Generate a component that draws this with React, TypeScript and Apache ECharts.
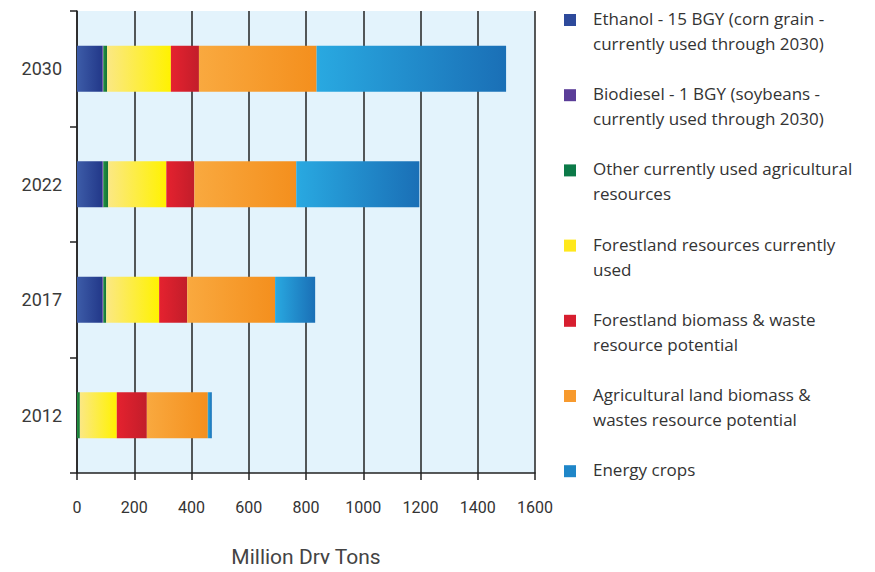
import React, { useEffect, useRef } from "react";
import * as echarts from "echarts";

// Years shown on the category axis (bottom to top)
const years = ["2012", "2017", "2022", "2030"];

// Million dry tons per resource, per year (same order as `years`)
const ethanol = [0, 88, 88, 88];
const biodiesel = [0, 4, 4, 4];
const otherAgUsed = [10, 10, 17, 13];
const forestUsed = [129, 185, 203, 223];
const forestPotential = [105, 98, 98, 98];
const agPotential = [213, 307, 356, 411];
const energyCrops = [14, 140, 430, 662];

const seriesNames = [
  "Ethanol - 15 BGY (corn grain - currently used through 2030)",
  "Biodiesel - 1 BGY (soybeans - currently used through 2030)",
  "Other currently used agricultural resources",
  "Forestland resources currently used",
  "Forestland biomass & waste resource potential",
  "Agricultural land biomass & wastes resource potential",
  "Energy crops",
];

// Wrapped legend captions
const legendLines = [
  "Ethanol - 15 BGY (corn grain -\ncurrently used through 2030)",
  "Biodiesel - 1 BGY (soybeans -\ncurrently used through 2030)",
  "Other currently used agricultural\nresources",
  "Forestland resources currently\nused",
  "Forestland biomass & waste\nresource potential",
  "Agricultural land biomass &\nwastes resource potential",
  "Energy crops",
];

const xTicks = { min: 0, max: 1600, interval: 200 };

const seriesData = [
  ethanol,
  biodiesel,
  otherAgUsed,
  forestUsed,
  forestPotential,
  agPotential,
  energyCrops,
];

// [left shade, right shade, legend swatch]
const palette: [string, string, string][] = [
  ["#3d5ca8", "#223889", "#2d4a9b"],
  ["#6a4aa6", "#4e3088", "#5a3d98"],
  ["#22903f", "#137236", "#0c7a48"],
  ["#fbe884", "#fff200", "#ffe81c"],
  ["#e5222f", "#c21d2a", "#d71f2f"],
  ["#f9a93f", "#f48f1d", "#f79a2e"],
  ["#29a9e1", "#1a6fb6", "#1f86c8"],
];

const FONT = "Roboto, 'Open Sans', sans-serif";
const LEGEND_FONT = "'Open Sans', Roboto, sans-serif";

export default function App() {
  const ref = useRef<HTMLDivElement>(null);

  useEffect(() => {
    if (!ref.current) return;
    const chart = echarts.init(ref.current, undefined, { renderer: "svg" });

    const series = seriesNames.map((name, i) => ({
      name,
      type: "bar" as const,
      stack: "total",
      barWidth: 46,
      data: seriesData[i],
      itemStyle: {
        color: new echarts.graphic.LinearGradient(0, 0, 1, 0, [
          { offset: 0, color: palette[i][0] },
          { offset: 1, color: palette[i][1] },
        ]),
        borderWidth: 0,
      },
      emphasis: { disabled: true },
    }));

    const legendGraphics: any[] = [];
    seriesNames.forEach((_, i) => {
      const cy = 20 + 75.2 * i;
      legendGraphics.push({
        type: "rect",
        left: 564,
        top: cy - 6,
        shape: { width: 12, height: 12 },
        style: { fill: palette[i][2] },
      });
      legendGraphics.push({
        type: "text",
        left: 593,
        top: cy - 14,
        style: {
          text: legendLines[i],
          fill: "#333333",
          font: `17px ${LEGEND_FONT}`,
          lineHeight: 25,
        },
      });
    });

    chart.setOption({
      animation: false,
      backgroundColor: "#ffffff",
      grid: {
        left: 77,
        right: 340,
        top: 11,
        bottom: 96,
        show: true,
        backgroundColor: "#e3f3fc",
        borderWidth: 0,
      },
      xAxis: {
        type: "value",
        min: xTicks.min,
        max: xTicks.max,
        interval: xTicks.interval,
        name: "Million Dry Tons",
        nameLocation: "middle",
        nameGap: 73,
        nameTextStyle: { fontFamily: FONT, fontSize: 21, color: "#444444" },
        axisLine: { show: true, lineStyle: { color: "#222222", width: 1.5 } },
        axisTick: { show: true, length: 7, lineStyle: { color: "#222222", width: 1.5 } },
        axisLabel: {
          fontFamily: FONT,
          fontSize: 16,
          color: "#333333",
          margin: 26,
          formatter: (v: number) => String(v),
        },
        splitLine: { show: true, lineStyle: { color: "#222222", width: 1.5 } },
      },
      yAxis: {
        type: "category",
        data: years,
        axisLine: { show: true, lineStyle: { color: "#222222", width: 1.5 } },
        axisTick: { show: true, length: 7, lineStyle: { color: "#222222", width: 1.5 } },
        axisLabel: { fontFamily: FONT, fontSize: 18, color: "#3a3a3a", margin: 15 },
        splitLine: { show: false },
      },
      series,
      graphic: legendGraphics,
    });

    return () => chart.dispose();
  }, []);

  return <div ref={ref} style={{ width: 875, height: 572, margin: -8 }} />;
}
